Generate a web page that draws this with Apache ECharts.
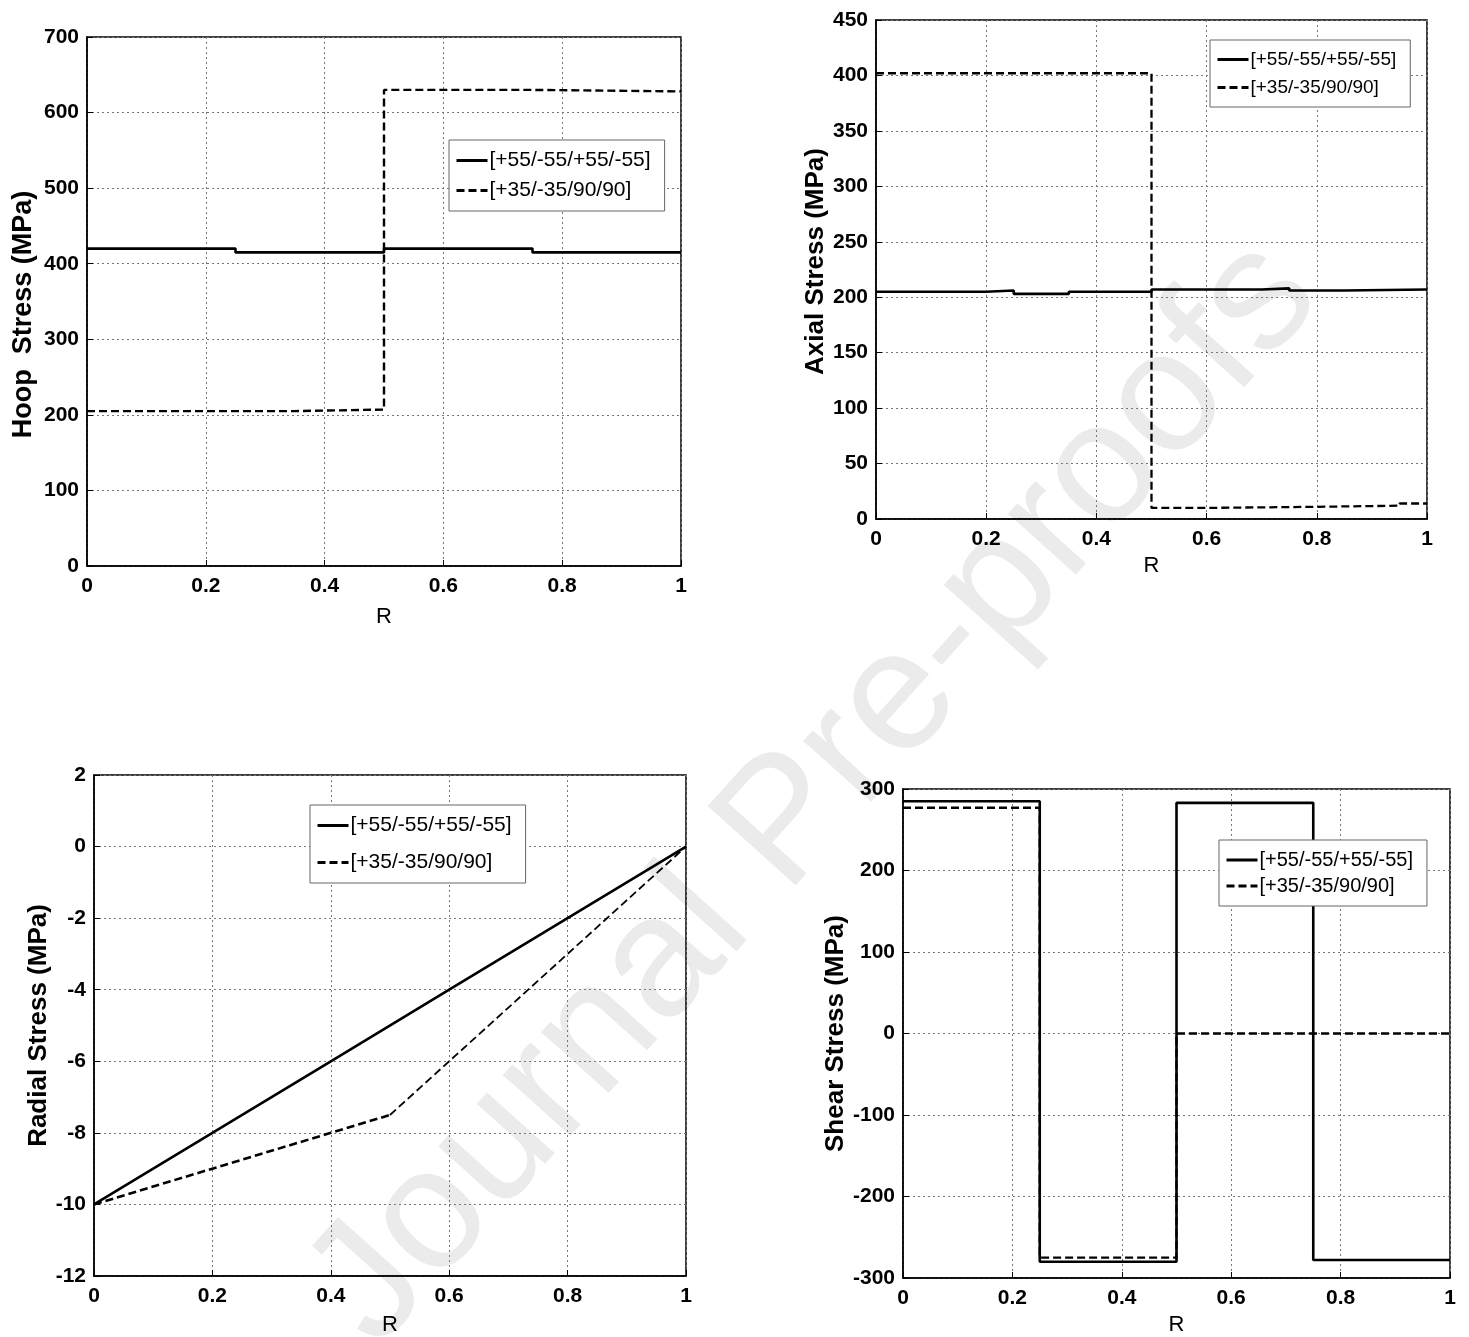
<!DOCTYPE html>
<html><head><meta charset="utf-8">
<script src="https://cdn.jsdelivr.net/npm/echarts@6/dist/echarts.min.js"></script>
<style>html,body{margin:0;padding:0;background:#fff}#c{width:1469px;height:1337px}</style>
</head><body><div id="c"></div>
<script>
const legendNames = ['[+55/-55/+55/-55]', '[+35/-35/90/90]'];
const xTicks = [0, 0.2, 0.4, 0.6, 0.8, 1];
// Hoop stress (step at end)
const hoopSolid = [[0,420],[0.25,415],[0.5,420],[0.75,415],[1,415]];
const hoopDashed = [[0,205],[0.35,207],[0.5,630],[0.75,628],[1,628]];
// Axial stress
const axialSolid = [[0,205],[0.2,206],[0.25,203],[0.35,205],[0.5,207],[0.7,208],[0.75,206],[0.85,207],[1,207]];
const axialDashed = [[0,402],[0.5,10],[0.6,11],[0.8,12],[0.95,14],[1,14]];
// Radial stress
const radialSolid = [[0,-10],[0.2,-8],[0.4,-6],[0.6,-4],[0.8,-2],[1,0]];
const radialDashedInner = [[0,-10],[0.2,-9],[0.4,-8],[0.5,-7.5]];
const radialDashedOuter = [[0.5,-7.5],[0.6,-6],[0.8,-3],[1,0]];
// Shear stress
const shearSolid = [[0,285],[0.25,-280],[0.5,283],[0.75,-278],[1,-278]];
const shearDashed = [[0,277],[0.25,-275],[0.5,0],[0.75,0],[1,0]];

const yAxes = [
  {name:'Hoop  Stress (MPa)', min:0, max:700, interval:100, gap:50, size:27, pad:[0,26,0,0]},
  {name:'Axial Stress (MPa)', min:0, max:450, interval:50, gap:45, size:26, pad:[0,0,0,16]},
  {name:'Radial Stress (MPa)', min:-12, max:2, interval:2, gap:40, size:26, pad:0},
  {name:'Shear Stress (MPa)', min:-300, max:300, interval:100, gap:45, size:26, pad:0}
];
const grids = [
  {left:87, top:37, width:594, height:529},
  {left:876, top:20, width:551, height:499},
  {left:94, top:775, width:592, height:503},
  {left:903, top:789, width:547, height:493}
];
const xNameGaps = [40, 36, 38, 36];
const legends = [
  {left:449, top:140, width:213, font:21, gap:9},
  {left:1210, top:40, width:200, font:19, gap:9},
  {left:310, top:805, width:222, font:21, gap:16},
  {left:1219, top:840, width:213, font:20, gap:6}
];
const FONT = '"Liberation Sans Narrow", "Liberation Sans", Arial, sans-serif';
const option = {
  backgroundColor:'#fff',
  animation:false,
  graphic:[{
    type:'text', z:-10, silent:true,
    x:815, y:793, rotation: 48*Math.PI/180,
    style:{text:'Journal Pre-proofs', font:'172px "Liberation Sans", Arial, sans-serif', fill:'#ebebeb', align:'center', verticalAlign:'middle'}
  }],
  grid: grids.map(g=>Object.assign({show:true, borderColor:'#000', borderWidth:1.5, backgroundColor:'transparent'}, g)),
  xAxis: grids.map((g,i)=>({
    type:'value', gridIndex:i, min:0, max:1, interval:0.2,
    name:'R', nameLocation:'middle', nameGap:xNameGaps[i],
    nameTextStyle:{fontFamily:FONT, fontSize:22, color:'#000'},
    axisLine:{show:true, onZero:false, lineStyle:{color:'#000', width:1.5}},
    axisTick:{show:true, inside:true, length:6, lineStyle:{color:'#000'}},
    axisLabel:{fontFamily:FONT, fontSize:21, fontWeight:'bold', color:'#000', margin:10,
      formatter:v=>xTicks.includes(+v.toFixed(1)) ? String(+v.toFixed(1)) : ''},
    splitLine:{show:true, lineStyle:{type:[2,3], color:'#777', width:1}}
  })),
  yAxis: yAxes.map((a,i)=>({
    type:'value', gridIndex:i, min:a.min, max:a.max, interval:a.interval,
    name:a.name, nameLocation:'middle', nameGap:a.gap, nameRotate:90,
    nameTextStyle:{fontFamily:'"Liberation Sans", Arial, sans-serif', fontSize:a.size, fontWeight:'bold', color:'#000', padding:a.pad},
    axisLine:{show:true, onZero:false, lineStyle:{color:'#000', width:1.5}},
    axisTick:{show:true, inside:true, length:6, lineStyle:{color:'#000'}},
    axisLabel:{fontFamily:FONT, fontSize:21, fontWeight:'bold', color:'#000', margin:8},
    splitLine:{show:true, lineStyle:{type:[2,3], color:'#777', width:1}}
  })),
  legend: legends.map((l,i)=>({
    left:l.left, top:l.top, width:l.width, orient:'vertical', z:20,
    data: legendNames.map(n=>({name:n})),
    backgroundColor:'#fff', borderColor:'#666', borderWidth:1,
    padding:[10,14,10,6], itemGap:l.gap, itemWidth:31, itemHeight:14,
    itemStyle:{color:'rgba(0,0,0,0)', borderWidth:0, opacity:0},
    lineStyle:{width:3},
    textStyle:{fontFamily:FONT, fontSize:l.font, color:'#000', padding:[0,0,0,-3]},
    selectedMode:false
  })),
  series: []
};
function addLine(name, i, data, step, dashed, width){
  option.series.push({
    type:'line', name:name, xAxisIndex:i, yAxisIndex:i,
    data:data, step:step, showSymbol:false, symbol:'none', z:2,
    lineStyle:{color:'#000', width:width, type:dashed?[8,4]:'solid'},
    itemStyle:{color:'#000'}
  });
}
addLine(legendNames[0],0,hoopSolid,'end',false,2.6);
addLine(legendNames[1],0,hoopDashed,'end',true,2.4);
addLine(legendNames[0],1,axialSolid,'end',false,2.6);
addLine(legendNames[1],1,axialDashed,'end',true,2.3);
addLine(legendNames[0],2,radialSolid,false,false,2.6);
addLine(legendNames[1],2,radialDashedInner,false,true,2.6);
addLine('',2,radialDashedOuter,false,true,1.8);
addLine(legendNames[0],3,shearSolid,'end',false,2.6);
addLine(legendNames[1],3,shearDashed,'end',true,2.3);
const chart = echarts.init(document.getElementById('c'));
chart.setOption(option);
</script></body></html>
